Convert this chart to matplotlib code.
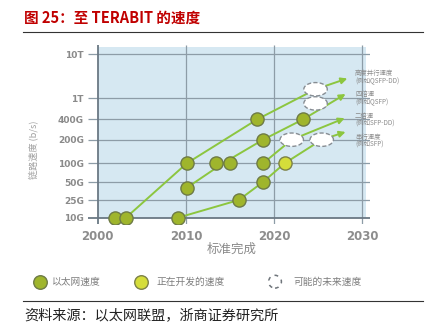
import numpy as np
import matplotlib
matplotlib.use("Agg")
import matplotlib.pyplot as plt
from matplotlib.path import Path

plt.rcParams['font.family'] = ['Noto Sans CJK SC', 'DejaVu Sans']

# ---- data -------------------------------------------------------------
# link speed axis, Gb/s
speed_ticks = [10, 25, 50, 100, 200, 400, 1000, 10000]
speed_labels = ['10G', '25G', '50G', '100G', '200G', '400G', '1T', '10T']
year_ticks = [2000, 2010, 2020, 2030]

# Ethernet speeds (standard completed)
eth_years = [2002.0, 2003.2, 2009.1, 2010.1, 2010.1, 2013.4, 2015.0,
             2016.0, 2018.1, 2018.75, 2018.75, 2018.75, 2023.3]
eth_speeds = [10, 10, 10, 100, 40, 100, 100, 25, 400, 200, 100, 50, 400]

# speeds in development
dev_years = [2021.2]
dev_speeds = [100]

# possible future speeds
future_years = [2024.7, 2024.7, 2022.0, 2025.4]
future_speeds = [1600, 800, 200, 200]

# trend lines
parallel_years = [2003.2, 2010.1, 2018.1, 2024.7, 2028.3]
parallel_speeds = [10, 100, 400, 1600, 2800]
quad_years = [2010.1, 2014.2, 2018.75, 2023.3, 2028.1]
quad_speeds = [40, 100, 200, 400, 1250]
double_years = [2018.75, 2022.0, 2028.0]
double_speeds = [100, 200, 420]
serial_years = [2009.1, 2016.0, 2018.75, 2021.2, 2025.4, 2028.1]
serial_speeds = [10, 25, 50, 100, 200, 260]

trend_names = [('高度并行速度', '(例如QSFP-DD)'),
               ('四倍速', '(例如QSFP)'),
               ('二倍速', '(例如SFP-DD)'),
               ('串行速度', '(例如SFP)')]
legend_names = ['以太网速度', '正在开发的速度', '可能的未来速度']

title = '图 25：至 TERABIT 的速度'
source = '资料来源：以太网联盟，浙商证券研究所'

# ---- speed scale: piecewise linear in log10 between labelled levels ----
_lv = np.log10(np.array(speed_ticks, dtype=float))
_pos = np.array([0, 17.7, 35.7, 54.4, 78.0, 98.4, 119.4, 163.7])


def _pw(x, xs, ys):
    x = np.asarray(x, dtype=float)
    out = np.interp(x, xs, ys)
    s0 = (ys[1] - ys[0]) / (xs[1] - xs[0])
    s1 = (ys[-1] - ys[-2]) / (xs[-1] - xs[-2])
    out = np.where(x < xs[0], ys[0] + (x - xs[0]) * s0, out)
    out = np.where(x > xs[-1], ys[-1] + (x - xs[-1]) * s1, out)
    return out


def speed_fwd(v):
    return _pw(np.log10(np.clip(np.asarray(v, dtype=float), 1e-9, None)), _lv, _pos)


def speed_inv(p):
    return 10 ** _pw(p, _pos, _lv)


# ---- figure -------------------------------------------------------------
W, H = 428, 333
fig = plt.figure(figsize=(W / 100, H / 100), dpi=100)
fig.patch.set_facecolor('white')

px_left, px_right, px_top, px_bottom = 88, 370, 45, 224
ax = fig.add_axes([px_left / W, 1 - px_bottom / H,
                   (px_right - px_left) / W, (px_bottom - px_top) / H])
ax.set_yscale('function', functions=(speed_fwd, speed_inv))

x0_px, px_per_year, y0_px = 97.7, 8.82, 217.7
ax.set_xlim(2000 + (px_left - x0_px) / px_per_year,
            2000 + (px_right - x0_px) / px_per_year)
ax.set_ylim(speed_inv(y0_px - px_bottom), speed_inv(y0_px - px_top))
ax.patch.set_alpha(0)
for s in ax.spines.values():
    s.set_visible(False)

xmin, xmax = ax.get_xlim()
ymin, ymax = ax.get_ylim()

# light blue plotting panel
ax.fill_between([2000, 2030.4], speed_ticks[0], speed_inv(171.0),
                color='#d6e8f2', lw=0, zorder=0)

# grid
grid_c = '#8d9ca7'
ax.hlines(speed_ticks[1:], xmin, xmax, color=grid_c, lw=0.9, zorder=1)
ax.vlines(year_ticks[1:], ymin, ymax, color=grid_c, lw=0.9, zorder=1)
ax.hlines(speed_ticks[0], xmin, xmax, color='#6a7884', lw=1.3, zorder=1)
ax.vlines(year_ticks[0], ymin, ymax, color='#6a7884', lw=1.3, zorder=1)

ax.set_yticks(speed_ticks, speed_labels)
ax.set_xticks(year_ticks, [str(y) for y in year_ticks])
ax.minorticks_off()
ax.tick_params(axis='y', length=0, pad=3, labelsize=6.5, labelcolor='#8a8a8a')
ax.tick_params(axis='x', length=0, pad=4, labelsize=8.5, labelcolor='#8d8d8d')
for lab in ax.get_yticklabels() + ax.get_xticklabels():
    lab.set_fontfamily('DejaVu Sans')
    lab.set_fontweight('bold')

# trend lines with arrow heads
line_c = '#8cc63f'
for xs, ys in [(parallel_years, parallel_speeds), (quad_years, quad_speeds),
               (double_years, double_speeds), (serial_years, serial_speeds)]:
    ax.plot(xs[:-1], ys[:-1], color=line_c, lw=1.4, zorder=2,
            solid_capstyle='round', solid_joinstyle='round')
    ax.annotate('', xy=(xs[-1], ys[-1]), xytext=(xs[-2], ys[-2]),
                arrowprops=dict(arrowstyle='-|>', color=line_c, lw=1.4,
                                mutation_scale=9, shrinkA=0, shrinkB=0),
                zorder=2)

# dashed ellipses for possible future speeds
t = np.linspace(0, 2 * np.pi, 73)
ellipse = Path(np.column_stack([np.cos(t), 0.57 * np.sin(t)]), closed=True)
ax.scatter(future_years, future_speeds, marker=ellipse, s=285,
           facecolors='white', edgecolors='#878d93', linewidths=1.0,
           linestyles=(0, (3, 1.6)), zorder=3)

# measured speeds
ax.scatter(eth_years, eth_speeds, s=90, c='#9fb52c', edgecolors='#6e7b46',
           linewidths=1.0, zorder=4)
ax.scatter(dev_years, dev_speeds, s=90, c='#d5dd3a', edgecolors='#7c8147',
           linewidths=1.0, zorder=4)

# ---- decoration layer in pixel coordinates --------------------------------
ov = fig.add_axes([0, 0, 1, 1], zorder=5)
ov.set_xlim(0, W)
ov.set_ylim(H, 0)
ov.axis('off')
ov.patch.set_alpha(0)

ov.text(24, 17.5, title, fontsize=10.5, fontweight='bold', color='#c00000',
        va='center', ha='left')
ov.plot([23, 423], [32.3, 32.3], color='#333333', lw=0.8)
ov.plot([23, 423], [300.5, 300.5], color='#333333', lw=0.8)
ov.text(24, 315, source, fontsize=10.2, color='#222222', va='center', ha='left')

ov.text(33, 150, '链路速度 (b/s)', rotation=90, fontsize=6.6, color='#a0a0a0',
        va='center', ha='center')
ov.text(232, 249, '标准完成', fontsize=9, color='#8a8a8a',
        va='center', ha='center')

label_rows = [(73.3, 80.9), (93.5, 101.8), (116.0, 123.8), (136.7, 144.7)]
for (l1, l2), (r1, r2) in zip(trend_names, label_rows):
    ov.text(355, r1, l1, fontsize=4.6, color='#8a8a8a', va='center', ha='left')
    ov.text(355, r2, l2, fontsize=4.6, color='#8a8a8a', va='center', ha='left')

# legend
leg_y = 281.7
ov.scatter([40], [leg_y], s=95, c='#9fb52c', edgecolors='#6e7b46', linewidths=1.0)
ov.scatter([141.5], [leg_y], s=95, c='#d5dd3a', edgecolors='#7c8147', linewidths=1.0)
ov.scatter([275], [leg_y], s=85, facecolors='white', edgecolors='#6f757b',
           linewidths=1.1, linestyles=(0, (2.5, 3)))
for x, name in zip([52.3, 156.7, 293], legend_names):
    ov.text(x, leg_y, name, fontsize=7, color='#7d7d7d', va='center', ha='left')

fig.savefig('out.png', dpi=100)
